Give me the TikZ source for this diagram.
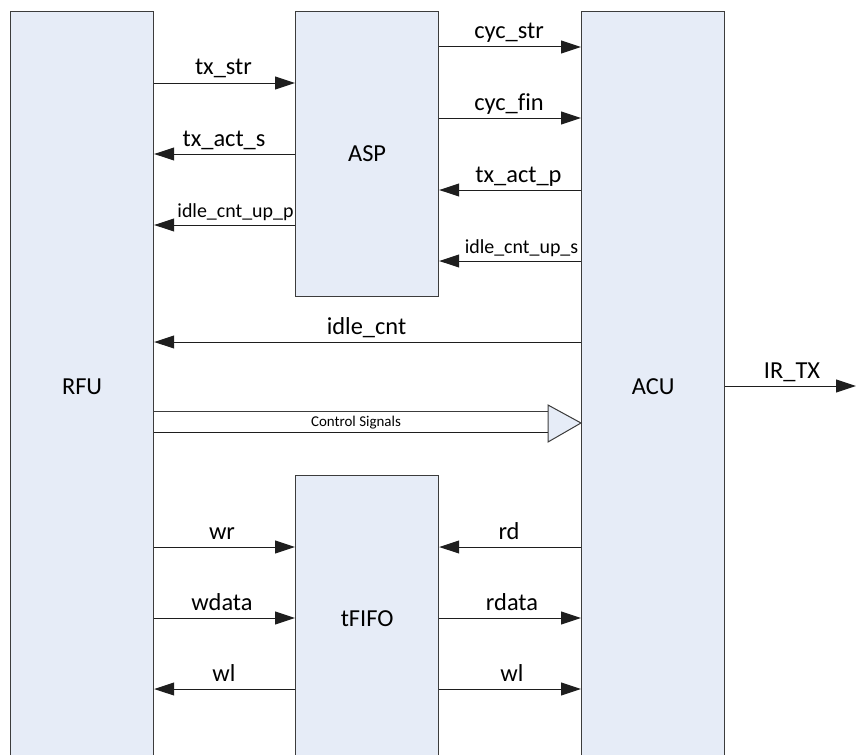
\documentclass[tikz,border=0pt]{standalone}
\usepackage{fontspec}
\setmainfont[Ligatures=NoCommon]{Carlito}
\usetikzlibrary{arrows.meta}
\definecolor{boxfill}{RGB}{230,236,247}
\definecolor{boxline}{RGB}{60,60,60}
\definecolor{wire}{RGB}{30,30,30}
\begin{document}
\begin{tikzpicture}[x=1bp,y=-1bp,
  blk/.style={draw=boxline, fill=boxfill, line width=1.2bp, minimum width=143bp, inner sep=0, font=\fontsize{24.5}{28}\selectfont, anchor=north west},
  sig/.style={draw=wire, line width=1bp, -{Triangle[length=20bp,width=13bp]}},
  lab/.style={font=\fontsize{24.5}{28}\selectfont, anchor=base, inner sep=0},
  slab/.style={font=\fontsize{20}{24}\selectfont, anchor=base, inner sep=0},
  tlab/.style={font=\fontsize{15}{18}\selectfont, anchor=base, inner sep=0}]
\useasboundingbox (0,0) rectangle (856,755);
\clip (0,0) rectangle (856,755);
% blocks
\node[blk, minimum height=750bp] (RFU) at (10,11) {RFU};
\node[blk, minimum height=750bp] (ACU) at (581,11) {ACU};
\node[blk, minimum height=285bp] (ASP) at (295,11) {ASP};
\node[blk, minimum height=286bp] (FIFO) at (295,475) {tFIFO};
% RFU <-> ASP
\draw[sig] (RFU.east |- 0,83) -- (ASP.west |- 0,83);
\node[lab] (l1) at (223.5,75) {tx\_str};
\draw[sig] (ASP.west |- 0,154) -- (RFU.east |- 0,154);
\node[lab] (l2) at (224,146) {tx\_act\_s};
\draw[sig] (ASP.west |- 0,225) -- (RFU.east |- 0,225);
\node[slab] (l3) at (235.5,217) {idle\_cnt\_up\_p};
% ASP <-> ACU
\draw[sig] (ASP.east |- 0,47) -- (ACU.west |- 0,47);
\node[lab] (l4) at (509,39) {cyc\_str};
\draw[sig] (ASP.east |- 0,118) -- (ACU.west |- 0,118);
\node[lab] (l5) at (509,110) {cyc\_fin};
\draw[sig] (ACU.west |- 0,190) -- (ASP.east |- 0,190);
\node[lab] (l6) at (518.5,182) {tx\_act\_p};
\draw[sig] (ACU.west |- 0,261) -- (ASP.east |- 0,261);
\node[slab] (l7) at (521.5,253) {idle\_cnt\_up\_s};
% ACU -> RFU
\draw[sig] (ACU.west |- 0,342) -- (RFU.east |- 0,342);
\node[lab] (l8) at (366.5,334) {idle\_cnt};
% control signals bus
\coordinate (ct1) at (548,405);
\coordinate (ct2) at (548,442);
\draw[draw=boxline, line width=1bp] (RFU.east |- 0,411) -- (548,411);
\draw[draw=wire, line width=1bp] (RFU.east |- 0,432) -- (548,432);
\draw[draw=boxline, fill=boxfill, line width=1bp] (ct1) -- (ACU.west |- 0,423) -- (ct2) -- cycle;
\node[tlab] (l9) at (356,426) {Control Signals};
% IR_TX
\coordinate (irend) at (856,386);
\draw[sig] (ACU.east |- 0,386) -- (irend);
\node[lab] (l10) at (792,378) {IR\_TX};
% RFU <-> tFIFO
\draw[sig] (RFU.east |- 0,547) -- (FIFO.west |- 0,547);
\node[lab] (l11) at (222,539) {wr};
\draw[sig] (RFU.east |- 0,618) -- (FIFO.west |- 0,618);
\node[lab] (l12) at (222,610) {wdata};
\draw[sig] (FIFO.west |- 0,689) -- (RFU.east |- 0,689);
\node[lab] (l13) at (224,681) {wl};
% tFIFO <-> ACU
\draw[sig] (ACU.west |- 0,547) -- (FIFO.east |- 0,547);
\node[lab] (l14) at (509,539) {rd};
\draw[sig] (FIFO.east |- 0,618) -- (ACU.west |- 0,618);
\node[lab] (l15) at (512,610) {rdata};
\draw[sig] (FIFO.east |- 0,689) -- (ACU.west |- 0,689);
\node[lab] (l16) at (512,681) {wl};
\end{tikzpicture}
\end{document}
